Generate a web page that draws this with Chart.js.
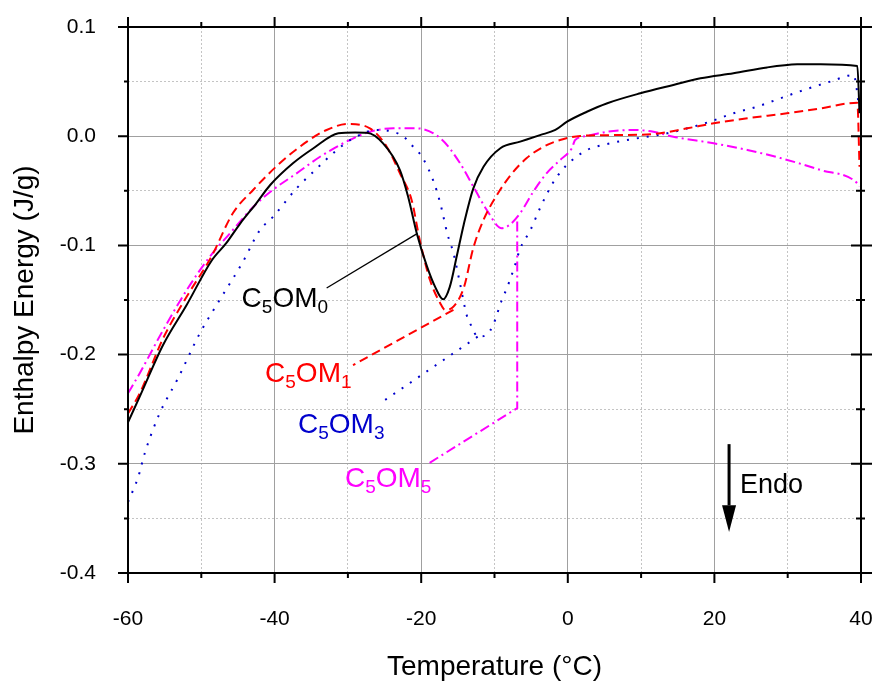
<!DOCTYPE html>
<html>
<head>
<meta charset="utf-8">
<script src="https://cdn.jsdelivr.net/npm/chart.js@4.4.1/dist/chart.umd.min.js"></script>
<style>
  html, body { margin: 0; padding: 0; background: #fff; }
</style>
</head>
<body>
<canvas id="dscChart" width="875" height="681"></canvas>
<script>
// temperature (°C) / enthalpy energy (J/g)
const c5om0T = [-60, -58.4, -55.2, -52.0, -48.6, -46.6, -44.7, -42.5, -40.6, -37.5, -34.7, -31.3, -29.0, -27.4, -25.2, -22.9, -21.8, -20.6, -19.2, -18.1, -17.0, -16.1, -15.15, -14.2, -12.9, -11.5, -9.2, -6.5, -3.8, -1.7, -0.1, 2.6, 5.3, 9.9, 14.4, 18.1, 22.6, 27.2, 31.3, 34.5, 39.5, 39.8];
const c5om0E = [-0.262, -0.2385, -0.191, -0.1546, -0.114, -0.098, -0.080, -0.0615, -0.0447, -0.0248, -0.011, 0.0027, 0.0035, 0.0032, -0.0065, -0.031, -0.055, -0.089, -0.1195, -0.138, -0.1494, -0.138, -0.110, -0.081, -0.048, -0.028, -0.011, -0.005, 0.001, 0.0057, 0.0133, 0.0224, 0.030, 0.0393, 0.0469, 0.053, 0.0576, 0.063, 0.0658, 0.066, 0.0643, 0.021];

const c5om1T = [-60, -58.4, -55.2, -52.0, -48.6, -45.7, -42.9, -39.3, -35.6, -32.9, -30.0, -27.0, -24.7, -22.9, -21.3, -20.2, -18.8, -17.4, -16.75, -15.6, -14.2, -12.9, -11.5, -9.5, -7.6, -5.6, -3.3, -1.05, 1.7, 6.2, 11.7, 16.3, 19.9, 24.5, 29.9, 34.5, 39.5, 39.8];
const c5om1E = [-0.254, -0.2355, -0.185, -0.147, -0.110, -0.0706, -0.049, -0.0248, -0.005, 0.0057, 0.0112, 0.0072, -0.0096, -0.034, -0.0586, -0.095, -0.1317, -0.153, -0.159, -0.156, -0.139, -0.1026, -0.0767, -0.052, -0.034, -0.020, -0.0096, -0.0035, 0.0002, 0.001, 0.002, 0.0072, 0.0118, 0.0164, 0.021, 0.0255, 0.0307, -0.028];

const c5om3T = [-60, -58.6, -57.7, -55.7, -53.2, -50.2, -47.5, -44.4, -42.0, -40.2, -37.0, -34.7, -31.5, -29.3, -26.1, -23.8, -22.4, -21.1, -19.9, -18.3, -17.4, -16.4, -15.6, -14.7, -13.8, -13.1, -12.3, -11.1, -10.2, -9.0, -8.3, -7.2, -6.5, -5.1, -3.8, -2.2, -1.3, -0.1, 1.2, 2.6, 5.8, 9.4, 13.1, 16.3, 19.4, 22.6, 25.8, 29.0, 32.2, 35.8, 39.0, 39.8];
const c5om3E = [-0.335, -0.312, -0.290, -0.254, -0.222, -0.1805, -0.150, -0.116, -0.086, -0.0737, -0.0477, -0.0325, -0.0126, -0.002, 0.0057, 0.004, -0.0004, -0.0096, -0.0188, -0.0417, -0.0614, -0.090, -0.107, -0.135, -0.1637, -0.1745, -0.1836, -0.182, -0.173, -0.150, -0.139, -0.118, -0.103, -0.086, -0.066, -0.0447, -0.0355, -0.026, -0.0188, -0.0126, -0.0065, -0.002, 0.002, 0.0072, 0.0133, 0.021, 0.027, 0.0347, 0.0423, 0.050, 0.056, 0.024];

const c5om5T = [-60, -58.4, -55.2, -52.0, -48.8, -46.1, -42.9, -40.2, -37.0, -33.8, -30.2, -27.0, -23.8, -20.6, -17.2, -14.7, -12.9, -11.05, -9.0, -7.9, -6.5, -4.7, -2.9, -1.05, 0.55, 1.0, 2.6, 5.3, 9.0, 11.7, 14.4, 19.9, 24.5, 29.0, 34.5, 39.5, 39.8];
const c5om5E = [-0.2355, -0.217, -0.1775, -0.141, -0.110, -0.089, -0.0646, -0.049, -0.034, -0.0188, -0.005, 0.004, 0.0072, 0.0072, -0.003, -0.0248, -0.046, -0.0676, -0.0843, -0.081, -0.0706, -0.0508, -0.034, -0.0218, -0.011, -0.0035, 0.0002, 0.004, 0.0057, 0.004, -0.0005, -0.0065, -0.0126, -0.020, -0.031, -0.043, -0.046];

// leader lines from the curves to their labels
const lead0T = [-20.5, -32.9];
const lead0E = [-0.089, -0.139];
const lead1T = [-15.6, -29.3];
const lead1E = [-0.159, -0.2097];
const lead3T = [-12.3, -25.6];
const lead3E = [-0.1836, -0.2446];
const lead5T = [-6.9, -6.9, -19.3];
const lead5E = [-0.078, -0.249, -0.301];

const seriesNames = ['C5OM0', 'C5OM1', 'C5OM3', 'C5OM5'];
const seriesColors = ['#000000', '#ff0000', '#0000cc', '#ff00ff'];
// label anchors (left, baseline) in data units
const labelT = [-44.5, -41.3, -36.8, -30.4];
const labelE = [-0.156, -0.225, -0.272, -0.321];

const endoText = 'Endo';
const endoT = 23.5, endoE = -0.3265;
const arrowT = 22.0, arrowTopE = -0.282, arrowTipE = -0.3625, arrowHeadE = -0.338;

const xMajor = [-60, -40, -20, 0, 20, 40];
const yMajor = [-0.4, -0.3, -0.2, -0.1, 0.0, 0.1];

const toPts = (t, e) => t.map((v, i) => ({ x: v, y: e[i] }));
const dashes = [[], [9, 5], [2, 8], [10, 4, 2, 4]];

const curves = [[c5om0T, c5om0E], [c5om1T, c5om1E], [c5om3T, c5om3E], [c5om5T, c5om5E]];
const leaders = [[lead0T, lead0E], [lead1T, lead1E], [lead3T, lead3E], [lead5T, lead5E]];

const datasets = [];
curves.forEach((c, i) => {
  datasets.push({
    label: seriesNames[i],
    data: toPts(c[0], c[1]),
    borderColor: seriesColors[i],
    borderWidth: 2,
    borderDash: dashes[i],
    pointRadius: 0,
    cubicInterpolationMode: 'monotone'
  });
});
leaders.forEach((c, i) => {
  datasets.push({
    label: seriesNames[i] + ' leader',
    data: toPts(c[0], c[1]),
    borderColor: seriesColors[i],
    borderWidth: i === 0 ? 1.3 : 2,
    borderDash: dashes[i],
    pointRadius: 0,
    tension: 0
  });
});

const FONT = "'Liberation Sans', Arial, sans-serif";
const isMajorX = v => xMajor.some(m => Math.abs(m - v) < 1e-6);
const isMajorY = v => yMajor.some(m => Math.abs(m - v) < 1e-6);

function drawChem(ctx, text, x, y, color) {
  ctx.fillStyle = color;
  ctx.textBaseline = 'alphabetic';
  ctx.textAlign = 'left';
  let cx = x;
  for (const ch of text) {
    const sub = /[0-9]/.test(ch);
    ctx.font = (sub ? '19px ' : '28px ') + FONT;
    ctx.fillText(ch, cx, sub ? y + 6 : y);
    cx += ctx.measureText(ch).width;
  }
}

const framePlugin = {
  id: 'frame',
  afterDraw(chart) {
    const { ctx, chartArea: a, scales: { x, y } } = chart;
    ctx.save();
    ctx.strokeStyle = '#000';
    ctx.lineWidth = 2;
    ctx.strokeRect(a.left, a.top, a.right - a.left, a.bottom - a.top);
    ctx.beginPath();
    x.ticks.forEach(t => {
      const px = x.getPixelForValue(t.value);
      const len = isMajorX(t.value) ? 10 : 5;
      ctx.moveTo(px, a.bottom); ctx.lineTo(px, a.bottom + len);
      ctx.moveTo(px, a.top); ctx.lineTo(px, a.top - len);
    });
    y.ticks.forEach(t => {
      const py = y.getPixelForValue(t.value);
      const major = isMajorY(t.value);
      const len = major ? 10 : 4;
      ctx.moveTo(a.left, py); ctx.lineTo(a.left - len, py);
      ctx.moveTo(a.right - (major ? 10 : 5), py); ctx.lineTo(a.right + (major ? 11 : 4), py);
    });
    ctx.stroke();

    // series labels
    seriesNames.forEach((n, i) => {
      drawChem(ctx, n, x.getPixelForValue(labelT[i]), y.getPixelForValue(labelE[i]), seriesColors[i]);
    });

    // endotherm arrow
    const ax = x.getPixelForValue(arrowT);
    const aTop = y.getPixelForValue(arrowTopE);
    const aTip = y.getPixelForValue(arrowTipE);
    const aHead = y.getPixelForValue(arrowHeadE);
    ctx.beginPath();
    ctx.lineWidth = 3;
    ctx.moveTo(ax, aTop); ctx.lineTo(ax, aHead);
    ctx.stroke();
    ctx.beginPath();
    ctx.fillStyle = '#000';
    ctx.moveTo(ax - 7, aHead); ctx.lineTo(ax + 7, aHead); ctx.lineTo(ax, aTip);
    ctx.closePath();
    ctx.fill();
    ctx.font = '27px ' + FONT;
    ctx.textBaseline = 'alphabetic';
    ctx.fillText(endoText, x.getPixelForValue(endoT), y.getPixelForValue(endoE));
    ctx.restore();
  }
};

new Chart(document.getElementById('dscChart').getContext('2d'), {
  type: 'line',
  data: { datasets: datasets },
  options: {
    responsive: false,
    animation: false,
    devicePixelRatio: 1,
    layout: { padding: { top: 27, right: 14, left: 0, bottom: 0 } },
    plugins: { legend: { display: false }, tooltip: { enabled: false } },
    scales: {
      x: {
        type: 'linear',
        min: -60, max: 40,
        afterFit: s => {
          s.height = 108;
          s.paddingLeft = 0; s.paddingRight = 0;
        },
        ticks: {
          stepSize: 10,
          autoSkip: false,
          maxRotation: 0,
          padding: 34,
          color: '#000',
          font: { family: FONT, size: 21 },
          callback: v => isMajorX(v) ? String(v) : ''
        },
        grid: {
          drawTicks: false,
          color: c => isMajorX(c.tick.value) ? '#a0a0a0' : '#c4c4c4',
          lineWidth: 1
        },
        border: { display: false, dash: c => isMajorX(c.tick.value) ? [] : [2, 2] },
        title: {
          display: true,
          text: 'Temperature (°C)',
          color: '#000',
          font: { family: FONT, size: 28, lineHeight: 1 },
          padding: { top: 0, bottom: 0 }
        }
      },
      y: {
        type: 'linear',
        min: -0.4, max: 0.1,
        afterFit: s => {
          s.width = 128;
          s.paddingTop = 0; s.paddingBottom = 0;
        },
        ticks: {
          stepSize: 0.05,
          autoSkip: false,
          padding: 32,
          color: '#000',
          font: { family: FONT, size: 21 },
          callback: v => isMajorY(v) ? v.toFixed(1) : ''
        },
        grid: {
          drawTicks: false,
          color: c => isMajorY(c.tick.value) ? '#a0a0a0' : '#c4c4c4',
          lineWidth: 1
        },
        border: { display: false, dash: c => isMajorY(c.tick.value) ? [] : [2, 2] },
        title: {
          display: true,
          text: 'Enthalpy Energy (J/g)',
          color: '#000',
          font: { family: FONT, size: 28, lineHeight: 1 },
          padding: { top: 11, bottom: 0 }
        }
      }
    }
  },
  plugins: [framePlugin]
});
</script>
</body>
</html>
